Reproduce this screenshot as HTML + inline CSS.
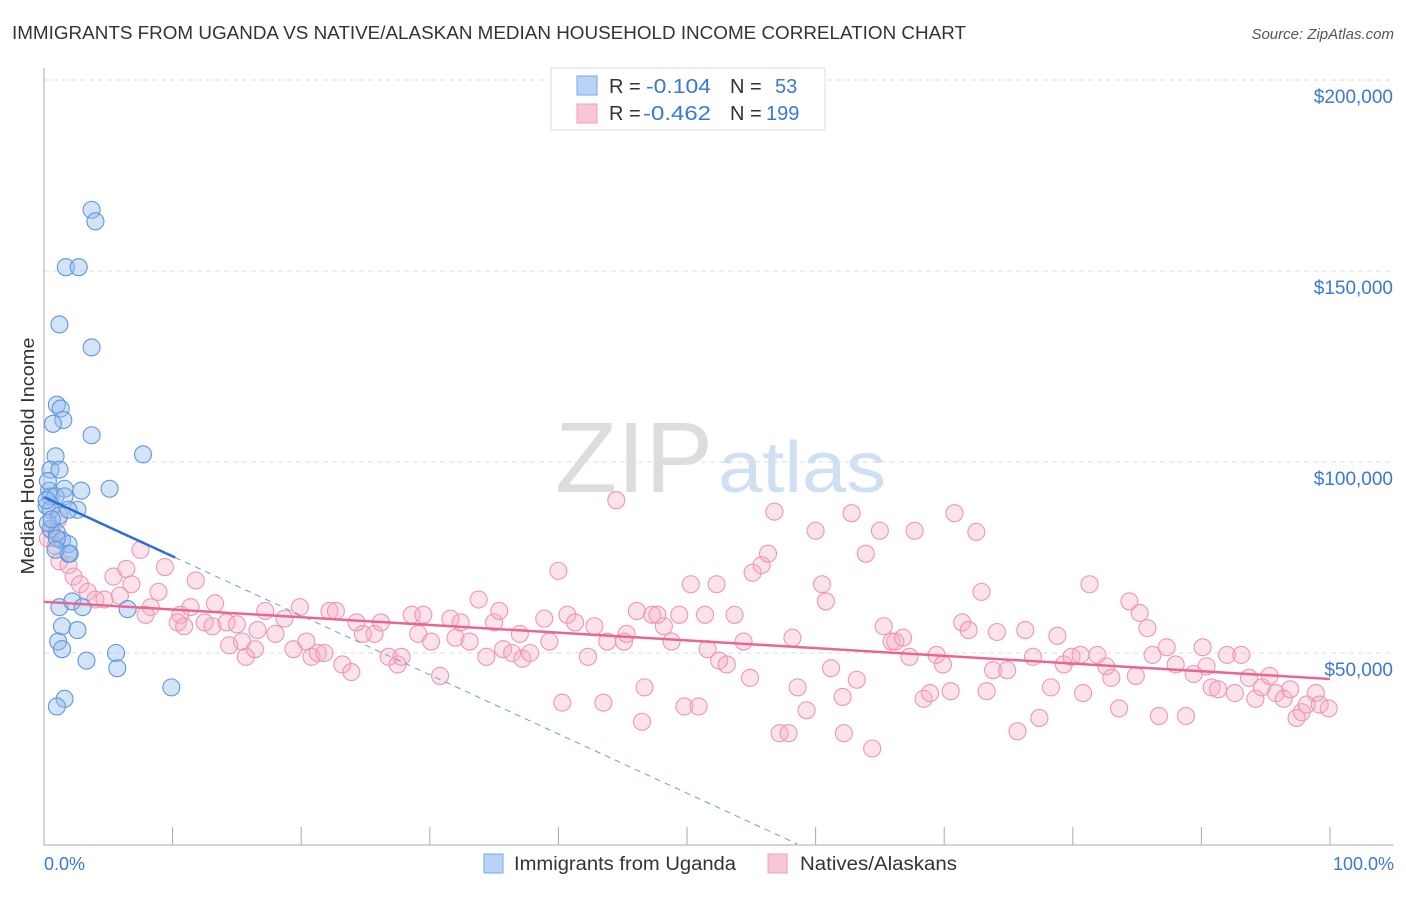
<!DOCTYPE html>
<html><head><meta charset="utf-8"><style>
body{margin:0;background:#fff;font-family:"Liberation Sans",sans-serif}
svg text{font-family:"Liberation Sans",sans-serif}
</style></head><body>
<svg id="chart" width="1406" height="892" xmlns="http://www.w3.org/2000/svg">
<text x="12" y="39" font-size="18" fill="#333" textLength="954" lengthAdjust="spacingAndGlyphs">IMMIGRANTS FROM UGANDA VS NATIVE/ALASKAN MEDIAN HOUSEHOLD INCOME CORRELATION CHART</text>
<text x="1394" y="39" font-size="15" fill="#555" text-anchor="end" font-style="italic">Source: ZipAtlas.com</text>
<text x="555" y="492" font-size="100" fill="#ddd" textLength="158" lengthAdjust="spacingAndGlyphs" font-family="Liberation Serif">ZIP</text>
<text x="718" y="492" font-size="72" fill="#cfe0f3" textLength="168" lengthAdjust="spacingAndGlyphs">atlas</text>
<g id="grid"></g><g id="axes"></g><g id="pts"></g><g id="lines"></g>
<text transform="translate(34,456) rotate(-90)" font-size="18" fill="#333" text-anchor="middle" textLength="237" lengthAdjust="spacingAndGlyphs">Median Household Income</text>
<text x="44" y="870" font-size="18" fill="#3a78d6">0.0%</text>
<text x="1394" y="870" font-size="18" fill="#3a78d6" text-anchor="end">100.0%</text>
<g>
<rect x="551" y="68" width="274" height="62" fill="#fff" stroke="#ddd"/>
<rect x="577" y="76" width="20" height="19" fill="#b8d3f5" stroke="#7aa7e2"/>
<rect x="577" y="104" width="20" height="19" fill="#f9c6d4" stroke="#eea0b8"/>
<text x="609" y="93" font-size="20" fill="#333">R =</text><text x="646" y="93" font-size="20" fill="#3a78d6" textLength="65" lengthAdjust="spacingAndGlyphs">-0.104</text>
<text x="730" y="93" font-size="20" fill="#333">N =</text><text x="775" y="93" font-size="20" fill="#3a78d6">53</text>
<text x="609" y="120" font-size="20" fill="#333">R =</text><text x="643" y="120" font-size="20" fill="#3a78d6" textLength="68" lengthAdjust="spacingAndGlyphs">-0.462</text>
<text x="730" y="120" font-size="20" fill="#333">N =</text><text x="766" y="120" font-size="20" fill="#3a78d6">199</text>
</g>
<g>
<rect x="484" y="854" width="19" height="19" fill="#b8d3f5" stroke="#7aa7e2"/>
<text x="514" y="870" font-size="19" fill="#333" textLength="222" lengthAdjust="spacingAndGlyphs">Immigrants from Uganda</text>
<rect x="768" y="854" width="19" height="19" fill="#f9c6d4" stroke="#eea0b8"/>
<text x="800" y="870" font-size="19" fill="#333" textLength="157" lengthAdjust="spacingAndGlyphs">Natives/Alaskans</text>
</g>
</svg>
<script>
const yTicks=[50,100,150,200];
const yTickLabels=["$50,000","$100,000","$150,000","$200,000"];
const blueX=[3.7,4,1.7,2.7,1.2,3.7,1,1.3,1.5,0.7,3.7,0.9,7.7,0.5,1.2,0.4,1.6,2.9,5.1,0.5,0.9,1.6,0.2,2.6,0.5,1.2,1.9,0.5,1,1.4,1.9,1,1.9,2,1.2,2.2,3,6.5,1.4,2.6,1.1,1.4,3.3,5.6,5.7,9.9,1.6,1,0.3,0.6,0.9,0.3,0.2];
const blueY=[166,163,151,151,136,130,115,114,111,110,107,101.5,102,98,98,92.5,93,92.5,93,91,91,91,88.5,87.5,87.5,86,87.5,82.5,81.5,79.5,78.5,80,76,76,62,63.5,62,61.5,57,56,53,51,48,50,46,41,38,36,84,85,77,95,90];
const pinkX=[0.9,0.6,1.2,1.9,2.3,2.8,3.4,4,4.7,1.1,0.3,5.4,6.4,7.5,6.8,5.9,8.9,9.4,8.3,7.9,10.6,10.4,10.9,11.8,11.4,13.3,12.5,13.1,14.2,15,14.4,15.7,15.4,16.6,17.2,16.4,18,18.7,19.4,19.9,20.4,20.8,21.3,21.8,22.2,22.7,23.2,23.9,24.3,24.8,25.7,26.2,26.8,27.5,27.8,28.6,29.5,29.1,30.1,30.8,31.6,32,32.4,33.1,33.8,34.4,35,35.4,35.7,36.4,37,37.2,37.8,38.9,39.3,40,40.3,40.7,41.3,42.3,42.8,43.5,43.8,44.5,45.1,45.3,46.1,46.5,46.7,47.3,47.7,48.2,48.8,49.4,49.8,50.3,50.9,51.4,51.6,52.3,52.5,53.1,53.7,54.4,54.9,55.1,55.8,56.3,56.8,57.2,57.9,58.2,58.6,59.3,60,60.5,60.8,61.2,62.1,62.2,62.8,63.2,63.9,64.4,65,65.3,65.9,66.2,66.8,67.3,67.7,68.4,68.9,69.4,69.9,70.5,70.8,71.4,71.9,72.5,72.9,73.3,73.8,74.1,74.9,75.7,76.3,76.9,77.4,78.3,78.8,79.3,79.9,80.6,80.8,81.3,81.9,82.6,83,83.6,84.4,84.9,85.2,85.8,86.2,86.7,87.3,88,88.8,89.4,90.1,90.4,90.8,91.3,92,92.6,93.1,93.7,94.2,94.7,95.3,95.8,96.4,96.9,97.4,97.8,98.2,98.9,99.2,99.9];
const pinkY=[78,82,74,73,70,68,66,64,64,85,80,70,72,77,68,65,66,72.5,62,60,60,58,57,69,62,63,58,57,58,57.5,52,49,53,56,61,51,55,59,51,62,53,49,50,50,61,61,47,45,58,55,55,58,49,47,49,60,60,55,53,44,59,54,58,53,64,49,58,61,51,50,55,48.5,50,59,53,71.5,37,60,58,49,57,37,53,90,53,55,61,32,41,60,60,57,53,60,36,68,36,60,51,68,48,47,60,53,43.5,71,73,76,87,29,29,54,41,35,82,68,63.5,46,38.5,29,86.6,43,76,25,82,57,53,53,54,49,82,38,39.5,49.5,47,40,86.6,58,56,81.7,66,40,45.5,55.5,45.5,29.5,56,49,33,41,54.5,47,49,49.5,39.5,68,49.5,46.5,43.5,35.5,63.5,44,60.5,56.5,49.5,33.5,51.5,47,33.5,44.5,51.5,46.5,41,40.5,49.5,39.5,49.5,43.5,38,41,44,39.5,38,40.5,33,34.5,36.5,39.5,36.5,35.5];
const blueTrend=[90.8,-1.55];
const pinkTrend=[63.4,-0.202];
const NS="http://www.w3.org/2000/svg";
const X0=44,X1=1330,Y0=844,Y1=80;
const sx=v=>X0+(X1-X0)*v/100;
const sy=v=>Y0-(Y0-Y1)*v/200;
function mk(tag,attrs,parent){const e=document.createElementNS(NS,tag);for(const k in attrs)e.setAttribute(k,attrs[k]);document.getElementById(parent).appendChild(e);return e;}
yTicks.forEach((t,i)=>{
  const l=mk('line',{x1:X0,x2:1393,y1:sy(t),y2:sy(t),stroke:'#ddd','stroke-dasharray':'5,4'},'grid');
  
  
  const tx=mk('text',{x:1393,y:sy(t)+23,'font-size':19,fill:'#3a78d6','text-anchor':'end'},'grid');
  tx.textContent=yTickLabels[i];
  
  
});
const ax=mk('line',{x1:X0,x2:X0,y1:68,y2:845,stroke:'#aaa'},'axes');


const bx=mk('line',{x1:X0,x2:1393,y1:845,y2:845,stroke:'#aaa'},'axes');


for(let i=0;i<=10;i++){
  const t=mk('line',{x1:sx(i*10),x2:sx(i*10),y1:827,y2:845,stroke:'#aaa'},'axes');
  
  
}
pinkX.forEach((x,i)=>{
  const c=mk('circle',{cx:sx(x),cy:sy(pinkY[i]),r:8.5,fill:'rgba(246,170,193,0.33)',stroke:'#f095b2','stroke-width':1.1},'pts');
  
  
});
blueX.forEach((x,i)=>{
  const c=mk('circle',{cx:sx(x),cy:sy(blueY[i]),r:8.5,fill:'rgba(150,188,238,0.42)',stroke:'#5f97dc','stroke-width':1.1},'pts');
  
  
});
const bEnd=10.2, bZero=-blueTrend[0]/blueTrend[1];
const l1=mk('line',{x1:sx(0),y1:sy(blueTrend[0]),x2:sx(bEnd),y2:sy(blueTrend[0]+blueTrend[1]*bEnd),stroke:'#2b6fd6','stroke-width':2.5},'lines');


const l2=mk('line',{x1:sx(bEnd),y1:sy(blueTrend[0]+blueTrend[1]*bEnd),x2:sx(bZero),y2:sy(0),stroke:'#6a9fe0','stroke-width':1,'stroke-dasharray':'6,5'},'lines');


const l3=mk('line',{x1:sx(0),y1:sy(pinkTrend[0]),x2:sx(100),y2:sy(pinkTrend[0]+pinkTrend[1]*100),stroke:'#e8678f','stroke-width':2.5},'lines');


</script>
</body></html>
